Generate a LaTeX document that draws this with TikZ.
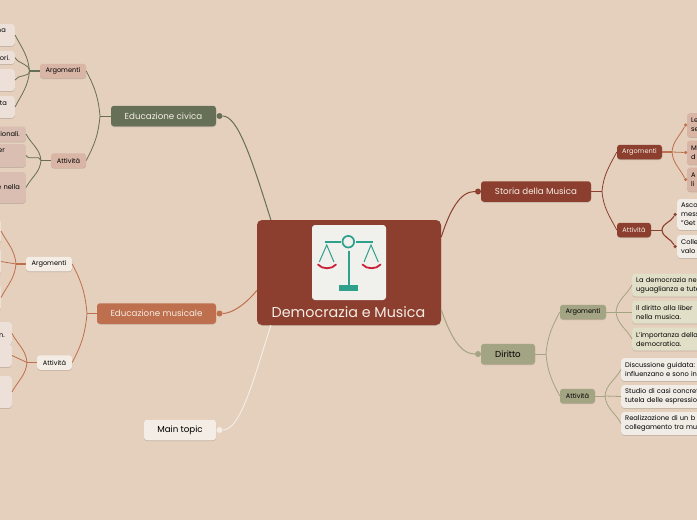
\documentclass[tikz,border=0pt]{standalone}
\usepackage{fontspec}
\setmainfont{Poppins}
\usetikzlibrary{shadows}
\definecolor{sfondo}{HTML}{E5CFBD}
\definecolor{mattone}{HTML}{8C3F2E}
\definecolor{salvia}{HTML}{657056}
\definecolor{terra}{HTML}{BE6F4D}
\definecolor{oliva}{HTML}{A3A483}
\definecolor{crema}{HTML}{F4EDE5}
\definecolor{rosato}{HTML}{D9B5A6}
\definecolor{rosachiaro}{HTML}{EDE0D9}
\definecolor{rosascuro}{HTML}{D9BEB1}
\definecolor{paglia}{HTML}{E2DFC8}
\definecolor{grigiochiaro}{HTML}{F1ECE6}
\definecolor{carta}{HTML}{F0F0EC}
\definecolor{verdeacqua}{HTML}{2FA08C}
\definecolor{rossobil}{HTML}{CC2036}
\tikzset{
  base/.style={rectangle, rounded corners=3pt, inner sep=0pt,
    drop shadow={shadow xshift=0pt, shadow yshift=-0.8pt, opacity=0.15, fill=black}},
  topic/.style={base, minimum height=20.5pt, font=\fontsize{8.7}{10}\selectfont},
  sub/.style={base, minimum height=14.5pt, font=\fontsize{6.6}{9}\selectfont},
  kidl/.style={base, anchor=east, text width=60pt, align=right, font=\fontsize{6.7}{9}\selectfont},
  kidr/.style={base, anchor=west, inner xsep=4pt, text width=100pt, align=left, font=\fontsize{6.7}{9}\selectfont},
  dot/.style={circle, inner sep=0pt, minimum size=#1},
  dot/.default=6pt,
  link/.style={line width=0.8pt},
  lup/.style={out=95, in=-62},
  ldown/.style={out=-95, in=62},
  rup/.style={out=85, in=242},
  rdown/.style={out=-85, in=118}
}
\begin{document}
\begin{tikzpicture}[x=1pt, y=-1pt]
  \useasboundingbox[fill=sfondo] (0,0) rectangle (697,520);
  % nodo centrale
  \node[base, rounded corners=5pt, fill=mattone, minimum width=184pt, minimum height=105pt] (central) at (349,272.5) {};
  \node[rectangle, rounded corners=3pt, fill=carta, minimum width=74pt, minimum height=75pt, inner sep=0pt] (icon) at (349,262.5) {};
  \node[text=crema, font=\fontsize{14.3}{16}\selectfont, inner sep=0pt] (title) at (348.5,312) {Democrazia e Musica};
  % bilancia
  \draw[verdeacqua, line width=1.7pt] (348.3,241.7) circle (5.8);
  \draw[verdeacqua, line width=2pt] (325,241.7) -- (340.5,241.7) (356,241.7) -- (373.3,241.7);
  \draw[verdeacqua, line width=2pt] (348.7,250.7) -- (348.7,285);
  \fill[verdeacqua] (339.3,285) rectangle (358.3,290.7);
  \draw[verdeacqua, line width=1pt] (319.3,262) -- (326.7,245) -- (334,262);
  \draw[verdeacqua, line width=1pt] (364,262) -- (371,245) -- (378.3,262);
  \draw[rossobil, line width=1.8pt, line cap=round] (318,264.5) .. controls (322,269.5) and (332,269.5) .. (336,264.5);
  \draw[rossobil, line width=1.8pt, line cap=round] (362.5,264.5) .. controls (366.5,269.5) and (376.5,269.5) .. (380.5,264.5);

  % Educazione civica
  \node[topic, fill=salvia, text=crema, minimum width=105pt] (civica) at (163.5,116) {Educazione civica};
  \node[dot, fill=salvia] (dotcivica) at (219.5,116) {};
  \node[sub, fill=rosato, minimum width=46pt] (civarg) at (63,71) {Argomenti};
  \node[sub, fill=rosato, minimum width=35pt] (civatt) at (68.5,160.5) {Attività};
  \node[kidl, fill=rosachiaro, minimum height=22pt, inner xsep=9pt] (civa) at (15,35) {na\\\mbox{}};
  \node[kidl, fill=rosachiaro, minimum height=13pt, inner xsep=5pt] (civb) at (15,57.5) {ori.};
  \node[kidl, fill=rosachiaro, minimum height=22pt, inner xsep=5pt] (civc) at (15,80) {\mbox{}};
  \node[kidl, fill=rosachiaro, minimum height=22pt, inner xsep=8pt] (civd) at (15,107) {ita\\\mbox{}};
  \node[kidl, fill=rosascuro, minimum height=15pt, inner xsep=6pt] (cive) at (26,134) {ionali.};
  \node[kidl, fill=rosascuro, minimum height=23pt, inner xsep=21pt] (civf) at (26,155.5) {er\\\mbox{}};
  \node[kidl, fill=rosascuro, minimum height=31pt, inner xsep=6pt] (civg) at (26,187.5) {e nella};
  \coordinate (forkcivica) at (100,116);
  \coordinate (forkcivarg) at (29.5,71);
  \coordinate (forkcivatt) at (41,160.5);
  \draw[link, salvia, line width=1pt] (dotcivica) .. controls (238,116) and (252,160) .. (central.146);
  \draw[link, salvia] (civica.west) -- (forkcivica);
  \draw[link, salvia] (forkcivica) to[lup] (civarg.east);
  \draw[link, salvia] (forkcivica) to[ldown] (civatt.east);
  \draw[link, salvia, line width=1.2pt] (civarg.west) -- (forkcivarg);
  \draw[link, salvia] (forkcivarg) to[lup] (civa.east);
  \draw[link, salvia] (forkcivarg) to[lup] (civb.east);
  \draw[link, salvia] (forkcivarg) to[ldown] (civc.east);
  \draw[link, salvia] (forkcivarg) to[ldown] (civd.east);
  \draw[link, salvia] (civatt.west) -- (forkcivatt);
  \draw[link, salvia] (forkcivatt) to[lup] (cive.east);
  \draw[link, salvia] (forkcivatt) to[lup] (civf.east);
  \draw[link, salvia] (forkcivatt) to[ldown] (civg.east);

  % Educazione musicale
  \node[topic, fill=terra, text=crema, minimum width=119pt] (musicale) at (156.5,313.5) {Educazione musicale};
  \node[dot, fill=terra] (dotmusicale) at (219.5,313.5) {};
  \node[sub, fill=crema, minimum width=46pt] (musarg) at (49,264) {Argomenti};
  \node[sub, fill=crema, minimum width=35pt] (musatt) at (54.5,362.5) {Attività};
  \node[kidl, fill=rosachiaro, minimum height=25pt, inner xsep=4pt] (musa) at (1,231) {\mbox{}};
  \node[kidl, fill=rosachiaro, minimum height=27pt, inner xsep=4pt] (musb) at (1,261.5) {\mbox{}};
  \node[kidl, fill=rosachiaro, minimum height=27pt, inner xsep=4pt] (musc) at (1,297.5) {\mbox{}};
  \node[kidl, fill=rosachiaro, minimum height=23pt, inner xsep=7pt] (musd) at (12,333.5) {\mbox{}\\n.};
  \node[kidl, fill=rosachiaro, minimum height=23pt, inner xsep=7pt] (muse) at (12,355.5) {\mbox{}};
  \node[kidl, fill=rosachiaro, minimum height=32pt, inner xsep=7pt] (musf) at (12,392) {\mbox{}};
  \coordinate (forkmusicale) at (87,313.5);
  \coordinate (forkmusarg) at (16,264);
  \coordinate (forkmusatt) at (27,362.5);
  \draw[link, terra, line width=1pt] (dotmusicale) .. controls (232,313.5) and (246,304) .. (central.191);
  \draw[link, terra] (musicale.west) -- (forkmusicale);
  \draw[link, terra] (forkmusicale) to[lup] (musarg.east);
  \draw[link, terra] (forkmusicale) to[ldown] (musatt.east);
  \draw[link, terra, line width=1.2pt] (musarg.west) -- (forkmusarg);
  \draw[link, terra] (forkmusarg) to[lup] (musa.east);
  \draw[link, terra] (forkmusarg) -- (musb.east);
  \draw[link, terra] (forkmusarg) to[ldown] (musc.east);
  \draw[link, terra, line width=1.2pt] (musatt.west) -- (forkmusatt);
  \draw[link, terra] (forkmusatt) to[lup] (musd.east);
  \draw[link, terra] (forkmusatt) -- (muse.east);
  \draw[link, terra] (forkmusatt) to[ldown] (musf.east);

  % Main topic
  \node[topic, fill=crema, text=black, minimum width=72pt] (maintopic) at (180,430) {Main topic};
  \node[dot, fill=crema] (dotmain) at (219.5,430) {};
  \draw[link, crema, line width=1pt] (dotmain) .. controls (240,430) and (252,385) .. (central.214);

  % Storia della Musica
  \node[topic, fill=mattone, text=crema, minimum width=110pt] (storia) at (536,191.5) {Storia della Musica};
  \node[dot, fill=mattone] (dotstoria) at (478,191.5) {};
  \node[sub, fill=mattone, text=crema, minimum width=45pt] (stoarg) at (639.5,152) {Argomenti};
  \node[sub, fill=mattone, text=crema, minimum width=34pt] (stoatt) at (634,230) {Attività};
  \node[kidr, fill=rosato, minimum height=24pt] (stoa) at (687,125) {Le\\se};
  \node[kidr, fill=rosato, minimum height=24pt] (stob) at (687,152.5) {M\\d};
  \node[kidr, fill=rosato, minimum height=24pt] (stoc) at (687,179.5) {A\\li};
  \node[kidr, fill=grigiochiaro, minimum height=31pt] (stod) at (677,214.5) {Asco\\mess\\"Get};
  \node[kidr, fill=grigiochiaro, minimum height=23pt] (stoe) at (677,246.5) {Colle\\valo};
  \node[dot=3.5pt, fill=terra] (dotstoa) at (685.5,125) {};
  \node[dot=3.5pt, fill=terra] (dotstob) at (685.5,152.5) {};
  \node[dot=3.5pt, fill=terra] (dotstoc) at (685.5,179.5) {};
  \node[dot=3.5pt, fill=mattone] (dotstod) at (675,214.5) {};
  \node[dot=3.5pt, fill=mattone] (dotstoe) at (675,246.5) {};
  \coordinate (forkstoria) at (602,191.5);
  \coordinate (forkstoarg) at (672,152);
  \coordinate (forkstoatt) at (662,230);
  \draw[link, mattone, line width=1pt] (dotstoria) .. controls (460,191.5) and (450,210) .. (central.21.6);
  \draw[link, mattone] (storia.east) -- (forkstoria);
  \draw[link, mattone] (forkstoria) to[rup] (stoarg.west);
  \draw[link, mattone] (forkstoria) to[rdown] (stoatt.west);
  \draw[link, terra, line width=1.2pt] (stoarg.east) -- (forkstoarg);
  \draw[link, terra] (forkstoarg) to[rup] (dotstoa);
  \draw[link, terra] (forkstoarg) -- (dotstob);
  \draw[link, terra] (forkstoarg) to[rdown] (dotstoc);
  \draw[link, mattone] (stoatt.east) -- (forkstoatt);
  \draw[link, mattone, line width=1.1pt] (forkstoatt) to[rup] (dotstod);
  \draw[link, mattone, line width=1.1pt] (forkstoatt) to[rdown] (dotstoe);

  % Diritto
  \node[topic, fill=oliva, text=black, minimum width=54pt] (diritto) at (508,354) {Diritto};
  \node[dot, fill=oliva] (dotdiritto) at (478,354) {};
  \node[sub, fill=oliva, text=black, minimum width=46pt] (dirarg) at (583,312) {Argomenti};
  \node[sub, fill=oliva, text=black, minimum width=35pt] (diratt) at (577.5,396) {Attività};
  \node[kidr, fill=paglia, minimum height=23pt] (dira) at (632,285) {La democrazia ne\\uguaglianza e tute};
  \node[kidr, fill=paglia, minimum height=23pt] (dirb) at (632,312) {Il diritto alla liber\\nella musica.};
  \node[kidr, fill=paglia, minimum height=23pt] (dirc) at (632,339) {L'importanza della\\democratica.};
  \node[kidr, fill=grigiochiaro, minimum height=23pt] (dird) at (621,369.5) {Discussione guidata:\\influenzano e sono in};
  \node[kidr, fill=grigiochiaro, minimum height=23pt] (dire) at (621,396.5) {Studio di casi concret\\tutela delle espressio};
  \node[kidr, fill=grigiochiaro, minimum height=23pt] (dirf) at (621,423.5) {Realizzazione di un b\\collegamento tra mus};
  \coordinate (forkdiritto) at (546,354);
  \coordinate (forkdirarg) at (616,312);
  \coordinate (forkdiratt) at (605,396);
  \draw[link, oliva, line width=1pt] (dotdiritto) .. controls (460,354) and (450,335) .. (central.-22);
  \draw[link, oliva] (diritto.east) -- (forkdiritto);
  \draw[link, oliva] (forkdiritto) to[rup] (dirarg.west);
  \draw[link, oliva] (forkdiritto) to[rdown] (diratt.west);
  \draw[link, oliva] (dirarg.east) -- (forkdirarg);
  \draw[link, oliva] (forkdirarg) to[rup] (dira.west);
  \draw[link, oliva] (forkdirarg) -- (dirb.west);
  \draw[link, oliva] (forkdirarg) to[rdown] (dirc.west);
  \draw[link, oliva] (diratt.east) -- (forkdiratt);
  \draw[link, oliva] (forkdiratt) to[rup] (dird.west);
  \draw[link, oliva] (forkdiratt) -- (dire.west);
  \draw[link, oliva] (forkdiratt) to[rdown] (dirf.west);
\end{tikzpicture}
\end{document}
